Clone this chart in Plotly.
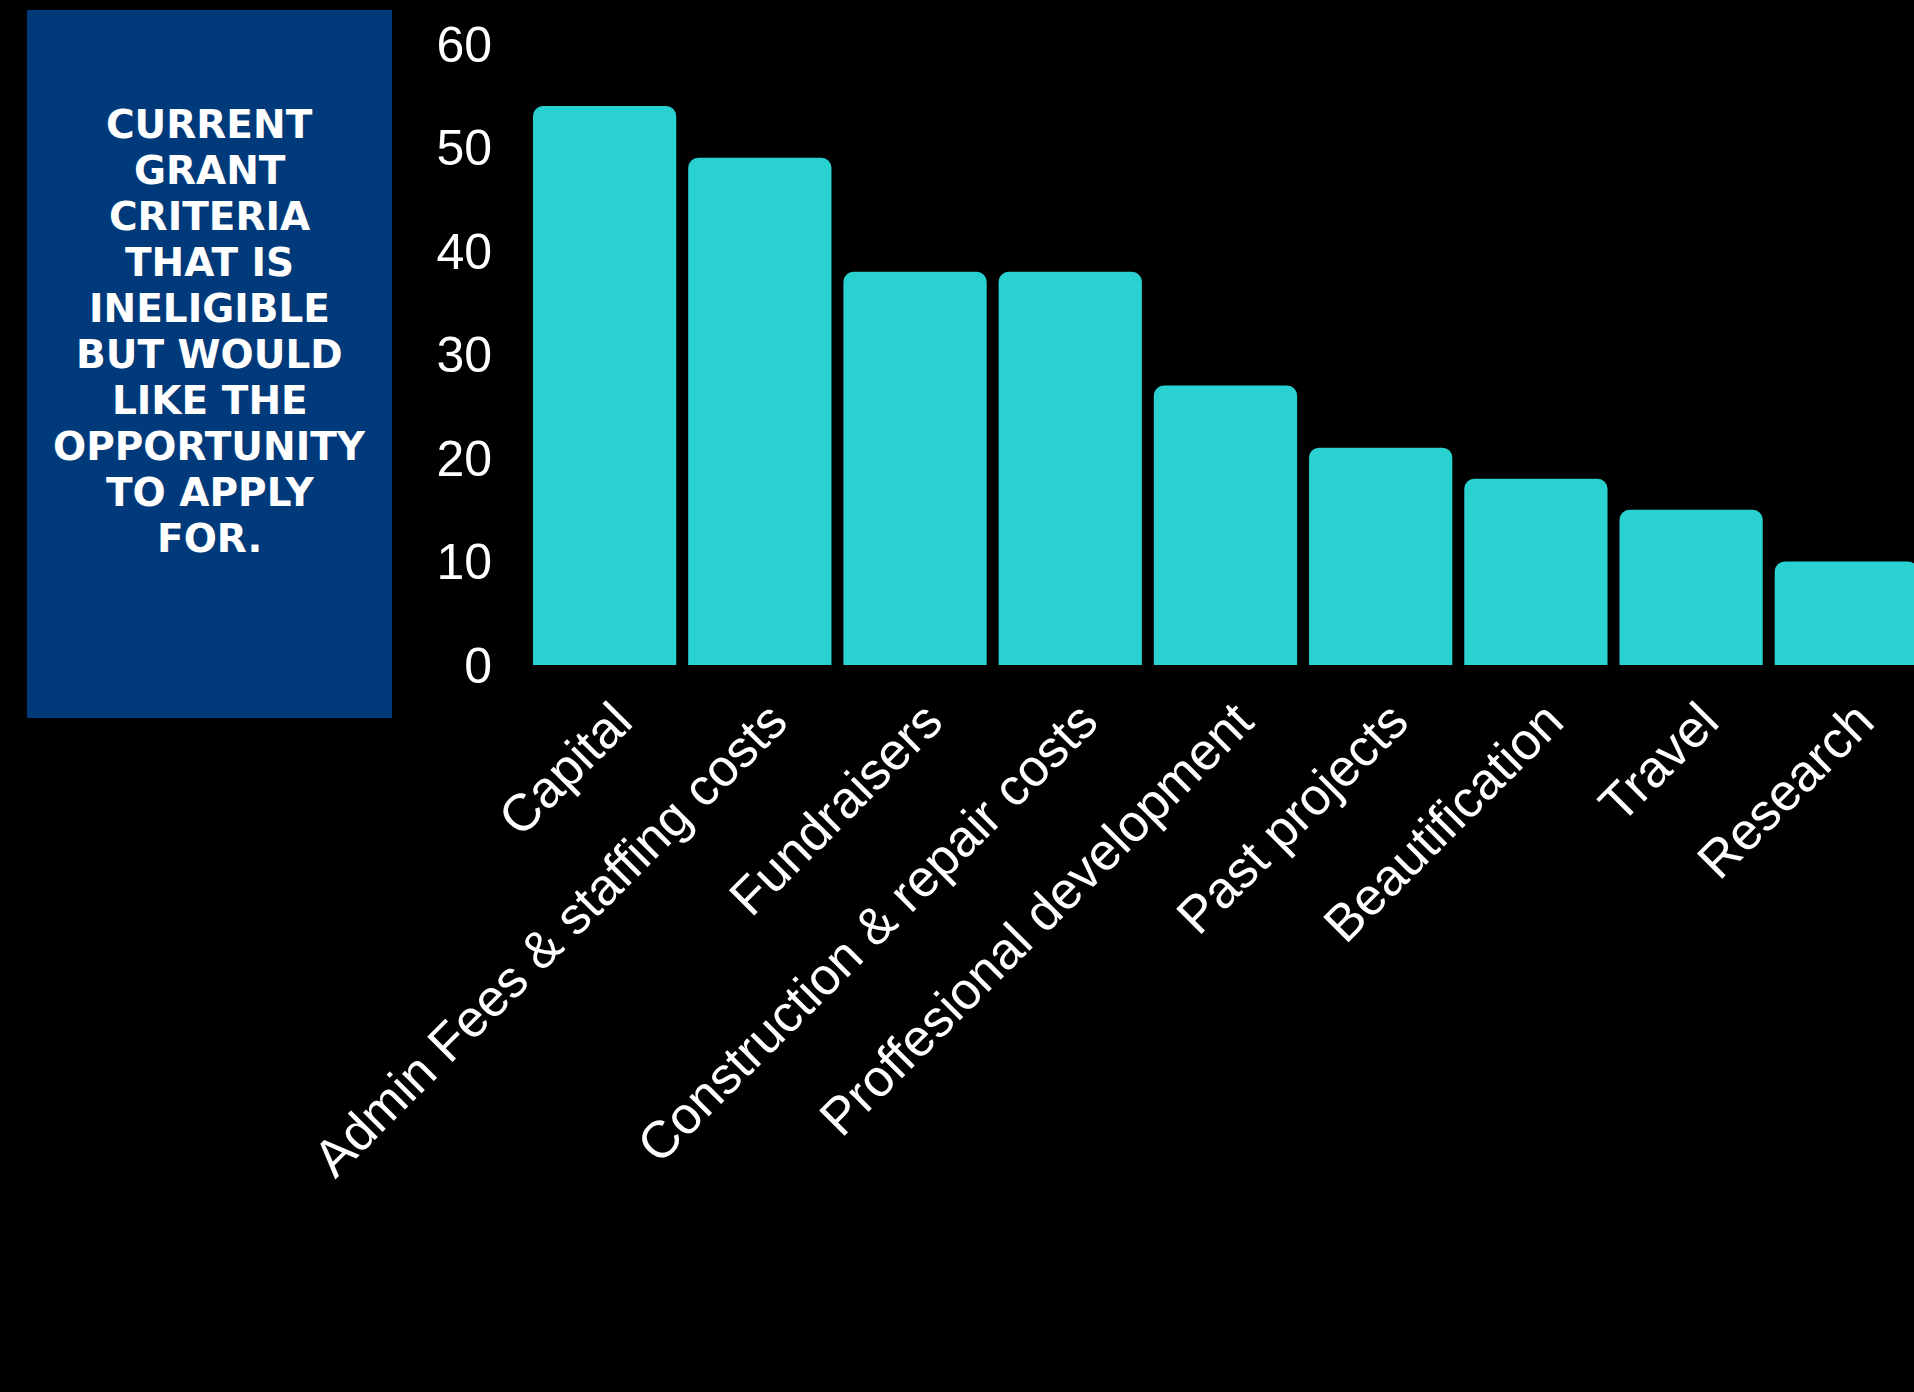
import plotly.graph_objects as go

categories = ["Capital", "Admin Fees & staffing costs", "Fundraisers",
              "Construction & repair costs", "Proffesional development",
              "Past projects", "Beautification", "Travel", "Research"]
values = [54, 49, 38, 38, 27, 21, 18, 15, 10]
y_ticks = [0, 10, 20, 30, 40, 50, 60]
title_lines = ["CURRENT", "GRANT", "CRITERIA", "THAT IS", "INELIGIBLE",
               "BUT WOULD", "LIKE THE", "OPPORTUNITY", "TO APPLY", "FOR."]

W, H = 1914, 1392
L, R, T, B = 527, 0, 44, 727
PW, PH = W - L - R, H - T - B

def px(x):
    return (x - L) / PW

def py(y):
    return (H - B - y) / PH

fig = go.Figure(go.Bar(
    x=categories, y=values,
    marker=dict(color="#29D2D0", cornerradius=10, line=dict(width=0)),
))

shapes = [dict(type="rect", xref="paper", yref="paper",
               x0=px(27), x1=px(392), y0=py(718), y1=py(10),
               fillcolor="#013A7A", line=dict(width=0), layer="below")]

annotations = []
for i, line in enumerate(title_lines):
    annotations.append(dict(
        text=line, xref="paper", yref="paper",
        x=px(209.5), y=py(124.5 + i * 46), xanchor="center", yanchor="middle",
        showarrow=False,
        font=dict(family="DejaVu Sans", size=39, color="white", weight="bold"),
    ))

fig.update_layout(
    width=W, height=H,
    margin=dict(l=L, r=R, t=T, b=B, pad=0),
    paper_bgcolor="black", plot_bgcolor="black",
    bargap=0.077,
    showlegend=False,
    shapes=shapes,
    annotations=annotations,
    xaxis=dict(range=[-0.5, 8.436], tickangle=-45, showgrid=False, zeroline=False,
               showline=False, ticks="", ticklabelstandoff=14, ticklabelshift=12,
               tickfont=dict(family="Liberation Sans", size=52, color="white")),
    yaxis=dict(range=[0, 60], tickvals=y_ticks, showgrid=False, zeroline=False,
               showline=False, ticks="", ticklabelstandoff=34,
               tickfont=dict(family="Liberation Sans", size=50, color="white")),
)

fig.write_html("out.html")
